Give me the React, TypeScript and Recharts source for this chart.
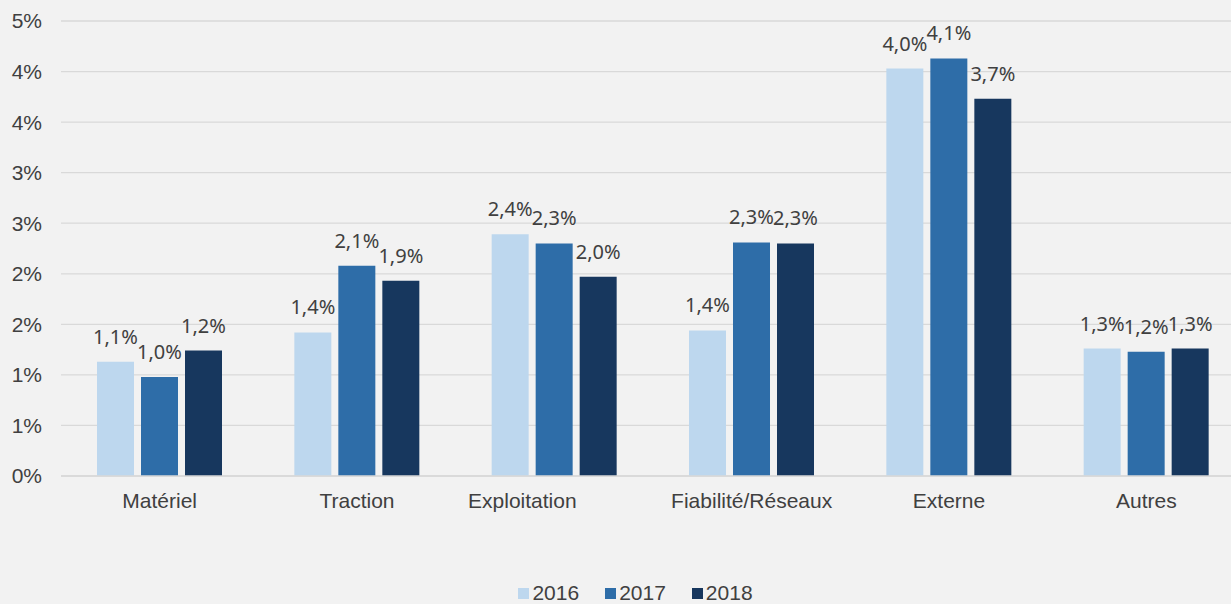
import React from "react";
import {
  BarChart,
  Bar,
  XAxis,
  YAxis,
  CartesianGrid,
  Legend,
  LabelList,
} from "recharts";

const categories = [
  "Matériel",
  "Traction",
  "Exploitation",
  "Fiabilité/Réseaux",
  "Externe",
  "Autres",
];
const y2016 = [1.13, 1.42, 2.39, 1.44, 4.03, 1.26];
const y2017 = [0.98, 2.08, 2.3, 2.31, 4.13, 1.23];
const y2018 = [1.24, 1.93, 1.97, 2.3, 3.73, 1.26];
const yTicks = [0, 0.5, 1, 1.5, 2, 2.5, 3, 3.5, 4, 4.5];

const series = [
  { key: "2016", values: y2016, color: "#bdd7ee" },
  { key: "2017", values: y2017, color: "#2e6da8" },
  { key: "2018", values: y2018, color: "#17375e" },
];

const data = categories.map((name, i) => ({
  name,
  "2016": y2016[i],
  "2017": y2017[i],
  "2018": y2018[i],
}));

const axisFont = "'Liberation Sans', Arial, sans-serif";
const textColor = "#404040";

const fmtLabel = (v: number) => v.toFixed(1).replace(".", ",") + "%";

// Excel drew the "Exploitation" label left of its group
const tickShift: Record<string, number> = { Exploitation: -32 };

const CategoryTick = (props: any) => {
  const { x, y, payload } = props;
  const dx = tickShift[payload.value] || 0;
  return (
    <text
      x={x + dx}
      y={y}
      dy="0.71em"
      textAnchor="middle"
      fill={textColor}
      fontSize={21}
      fontFamily={axisFont}
    >
      {payload.value}
    </text>
  );
};

const renderLegend = () => (
  <div
    style={{
      display: "flex",
      justifyContent: "center",
      alignItems: "center",
      fontFamily: axisFont,
      fontSize: 21,
      color: textColor,
      lineHeight: "22px",
    }}
  >
    {series.map((s) => (
      <div
        key={s.key}
        style={{ display: "flex", alignItems: "center", margin: "0 13px" }}
      >
        <span
          style={{
            width: 11,
            height: 11,
            background: s.color,
            marginRight: 3,
            display: "inline-block",
          }}
        />
        <span>{s.key}</span>
      </div>
    ))}
  </div>
);

export default function App() {
  return (
    <div
      style={{
        position: "fixed",
        top: 0,
        left: 0,
        width: 1231,
        height: 604,
        overflow: "hidden",
        background: "#f2f2f2",
      }}
    >
      <BarChart
        width={1271}
        height={604}
        data={data}
        margin={{ top: 21, right: 26, left: 0, bottom: 0 }}
        barSize={37}
        barGap={7}
      >
        <CartesianGrid vertical={false} stroke="#d9d9d9" strokeWidth={1.3} />
        <XAxis
          dataKey="name"
          height={106}
          tickLine={false}
          axisLine={{ stroke: "#d9d9d9", strokeWidth: 1.3 }}
          tickMargin={11}
          tick={<CategoryTick />}
          interval={0}
        />
        <YAxis
          width={61}
          domain={[0, 4.5]}
          ticks={yTicks}
          axisLine={false}
          tickLine={false}
          tickMargin={13}
          tickFormatter={(v: number) => Math.round(v) + "%"}
          tick={{ fill: textColor, fontSize: 21, fontFamily: axisFont }}
        />
        <Legend
          verticalAlign="bottom"
          height={22}
          content={renderLegend}
          wrapperStyle={{ left: 0, width: 1271, bottom: 0 }}
        />
        {series.map((s) => (
          <Bar
            key={s.key}
            dataKey={s.key}
            fill={s.color}
            isAnimationActive={false}
          >
            <LabelList
              dataKey={s.key}
              position="top"
              offset={18}
              formatter={(v: any) => fmtLabel(Number(v))}
              fill={textColor}
              fontSize={20}
              fontFamily="'Noto Sans', 'Open Sans', sans-serif"
            />
          </Bar>
        ))}
      </BarChart>
    </div>
  );
}
